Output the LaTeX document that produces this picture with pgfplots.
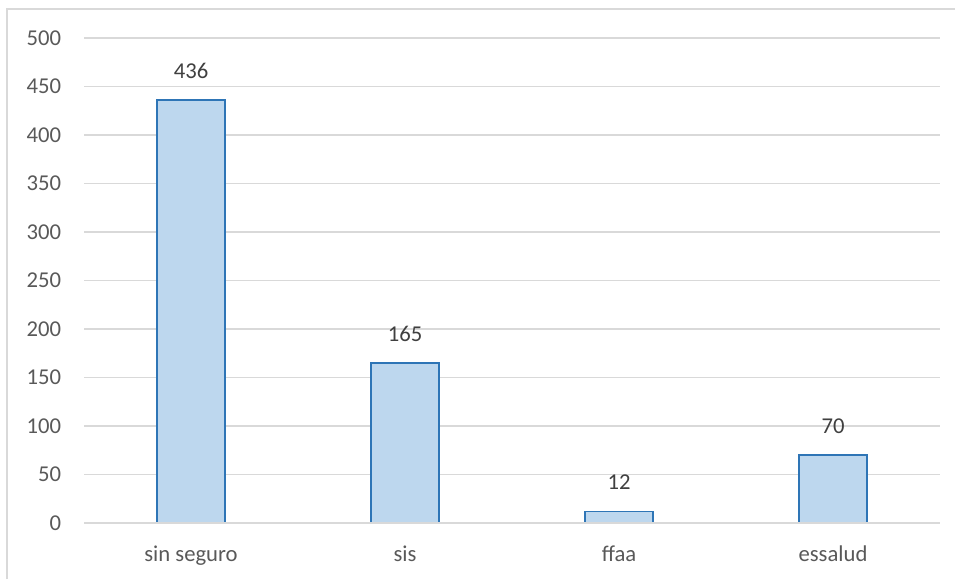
\documentclass[border=0pt]{standalone}
\usepackage{fontspec}
\setmainfont{Carlito}
\usepackage{pgfplots}
\pgfplotsset{compat=1.18}
\definecolor{gridc}{HTML}{D9D9D9}
\definecolor{barfill}{HTML}{BDD7EE}
\definecolor{barline}{HTML}{2E75B6}
\definecolor{ticktxt}{HTML}{595959}
\definecolor{lbltxt}{HTML}{404040}
\begin{document}
\begin{tikzpicture}
\path[use as bounding box] (0pt,0pt) rectangle (716.25pt,434.25pt);
\draw[gridc, line width=1.5pt] (5.25pt,0pt) -- (5.25pt,427.5pt) -- (716.25pt,427.5pt);
\begin{axis}[
  at={(63pt,42pt)}, anchor=south west,
  scale only axis, width=642pt, height=363.75pt,
  xmin=-0.5, xmax=3.5, ymin=0, ymax=500,
  xtick={0,1,2,3},
  xticklabels={sin seguro, sis, ffaa, essalud},
  ytick={0,50,...,500},
  axis line style={draw=none},
  axis x line*=bottom, axis y line*=left,
  major tick length=0pt,
  ymajorgrids, grid style={gridc, line width=0.9pt},
  /pgf/number format/assume math mode=true,
  ticklabel style={font=\fontsize{17}{20}\selectfont, text=ticktxt},
  yticklabel style={anchor=east, inner sep=0pt, xshift=-17pt},
  xticklabel style={anchor=base, inner sep=0pt, yshift=-29pt},
  ybar, bar width=51pt,
  nodes near coords,
  every node near coord/.append style={font=\fontsize{17}{20}\selectfont, text=lbltxt, anchor=south, inner sep=0pt, yshift=15.5pt},
  clip=false,
]
\addplot[fill=barfill, draw=barline, line width=1.2pt] coordinates {(0,436) (1,165) (2,12) (3,70)};
\draw[gridc, line width=0.9pt] (axis cs:-0.5,0) -- (axis cs:3.5,0);
\end{axis}
\end{tikzpicture}
\end{document}
